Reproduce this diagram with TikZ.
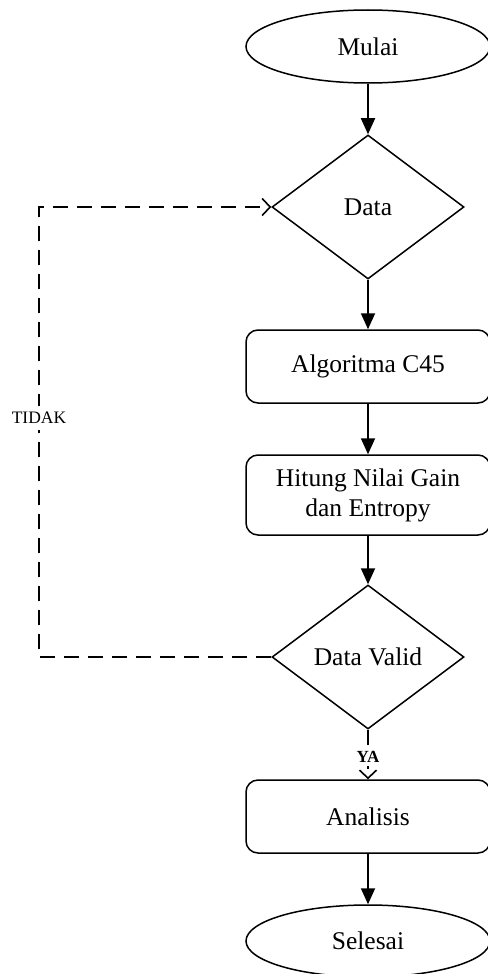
\documentclass[tikz,border=0pt]{standalone}
\usepackage{fontspec}
\setmainfont{Liberation Serif}
\usetikzlibrary{shapes.geometric,arrows.meta}
\begin{document}
\begin{tikzpicture}[x=1pt,y=-1pt,
  base/.style={draw, line width=1.5pt, font=\fontsize{25.5}{30}\selectfont, inner sep=0pt, align=center},
  term/.style={base, ellipse, minimum width=244pt, minimum height=73pt},
  proc/.style={base, rectangle, rounded corners=12pt, minimum width=244pt, minimum height=73pt},
  decide/.style={base, diamond, aspect=1.333, minimum width=192pt, minimum height=144pt},
  flow/.style={line width=1.8pt, -{Triangle[length=16pt,width=14pt]}},
  back/.style={line width=1.6pt, dash pattern=on 15pt off 9pt, -{Straight Barb[length=8pt,width=17pt,line width=1.6pt]}},
  lbl/.style={fill=white, inner xsep=2pt, inner ysep=6pt, font=\fontsize{17.5}{19}\selectfont}
]
\useasboundingbox (0,0) rectangle (487,974);
\node[term] (mulai) at (368,46.5) {Mulai};
\node[decide] (data) at (368,207) {Data};
\node[proc] (algo) at (368,366.5) {Algoritma C45};
\node[proc, minimum height=80pt] (hitung) at (368,495) {Hitung Nilai Gain\\dan Entropy};
\node[decide] (valid) at (368,657) {Data Valid};
\node[proc] (analisis) at (368,816.5) {Analisis};
\node[term, minimum height=72pt] (selesai) at (368,941) {Selesai};
\coordinate (c1) at (39,657);
\coordinate (c2) at (39,207);

\draw[flow] (mulai) -- (data);
\draw[flow] (data) -- (algo);
\draw[flow] (algo) -- (hitung);
\draw[flow] (hitung) -- (valid);
\draw[flow] (analisis) -- (selesai);
\draw[back] (valid.west) -- (c1) -- (c2) -- (data.west);
\draw[back] (valid.south) -- (analisis.north);
\node[lbl] (tidak) at (39,418) {TIDAK};
\node[lbl, inner ysep=3pt, font=\fontsize{17}{19}\selectfont\bfseries] (ya) at (368,757) {YA};
\end{tikzpicture}
\end{document}
